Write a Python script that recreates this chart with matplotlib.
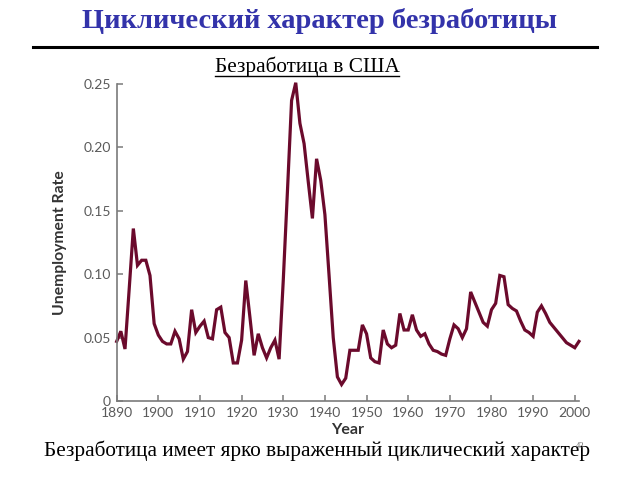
import numpy as np
import matplotlib.pyplot as plt
from matplotlib.lines import Line2D

# Безработица в США, 1890-2001 (доля)
years = np.arange(1890, 2002)
rate = [0.047, 0.055, 0.041, 0.088, 0.136, 0.107, 0.111, 0.111, 0.099, 0.061,
        0.052, 0.047, 0.045, 0.045, 0.055, 0.049, 0.033, 0.039, 0.072, 0.054,
        0.059, 0.063, 0.050, 0.049, 0.072, 0.074, 0.054, 0.050, 0.030, 0.030,
        0.048, 0.095, 0.066, 0.036, 0.053, 0.042, 0.034, 0.042, 0.048, 0.033,
        0.095, 0.165, 0.237, 0.251, 0.219, 0.203, 0.173, 0.144, 0.191, 0.174,
        0.147, 0.099, 0.050, 0.019, 0.013, 0.018, 0.040, 0.040, 0.040, 0.060,
        0.053, 0.034, 0.031, 0.030, 0.056, 0.045, 0.042, 0.044, 0.069, 0.056,
        0.056, 0.068, 0.056, 0.051, 0.053, 0.045, 0.040, 0.039, 0.037, 0.036,
        0.049, 0.060, 0.057, 0.050, 0.057, 0.086, 0.078, 0.070, 0.062, 0.059,
        0.072, 0.077, 0.099, 0.098, 0.076, 0.073, 0.071, 0.063, 0.056, 0.054,
        0.051, 0.070, 0.075, 0.069, 0.062, 0.058, 0.054, 0.050, 0.046, 0.044,
        0.042, 0.047]

x_ticks = list(range(1890, 2001, 10))
y_ticks = [0, 0.05, 0.10, 0.15, 0.20, 0.25]
y_tick_labels = ['0', '0.05', '0.10', '0.15', '0.20', '0.25']

title = 'Циклический характер безработицы'
subtitle = 'Безработица в США'
footer = 'Безработица имеет ярко выраженный циклический характер'

fig = plt.figure(figsize=(6.4, 4.8), dpi=100)
ax = fig.add_axes([0.1823, 0.1646, 0.7223, 0.6604])

ax.plot(years, rate, color='#6b0a2c', lw=2.3, clip_on=False, solid_joinstyle='miter')
ax.set_xlim(1890, 2001)
ax.set_ylim(0, 0.25)

gray = '#7a7a7a'
for s in ['top', 'right']:
    ax.spines[s].set_visible(False)
for s in ['left', 'bottom']:
    ax.spines[s].set_color(gray)
    ax.spines[s].set_linewidth(1.2)
ax.set_xticks(x_ticks)
ax.set_yticks(y_ticks)
ax.set_yticklabels(y_tick_labels)
ax.tick_params(direction='in', length=4, width=1.1, color=gray,
               labelcolor='#5a5a5a', labelsize=10, pad=4)
for lab in ax.get_xticklabels() + ax.get_yticklabels():
    lab.set_family('Lato')

ax.set_xlabel('Year', family='Lato', fontweight='bold', fontsize=11.5,
              color='#333333', labelpad=3)
ax.set_ylabel('Unemployment Rate', family='Lato', fontweight='bold',
              fontsize=11.3, color='#333333', labelpad=12)

# заголовок слайда
fig.text(0.5, 0.957, title, ha='center', va='center', family='Liberation Serif',
         fontweight='bold', fontsize=20.5, color='#3333aa')
fig.add_artist(Line2D([33 / 640, 597 / 640], [1 - 47 / 480] * 2,
                      color='black', lw=2.2))

sub = fig.text(307 / 640, 1 - 67 / 480, subtitle, ha='center', va='center',
               family='Liberation Serif', fontsize=15.3, color='black')
fig.canvas.draw()
bb = sub.get_window_extent().transformed(fig.transFigure.inverted())
fig.add_artist(Line2D([bb.x0, bb.x1], [bb.y0 + 0.003] * 2, color='black', lw=1))

fig.text(317 / 640, 1 - 451 / 480, footer, ha='center', va='center',
         family='Liberation Serif', fontsize=15.3, color='black')
fig.text(580 / 640, 1 - 446 / 480, '43', ha='center', va='center',
         family='Liberation Serif', fontsize=6, color='#666666')

fig.savefig('out.png', dpi=100)
